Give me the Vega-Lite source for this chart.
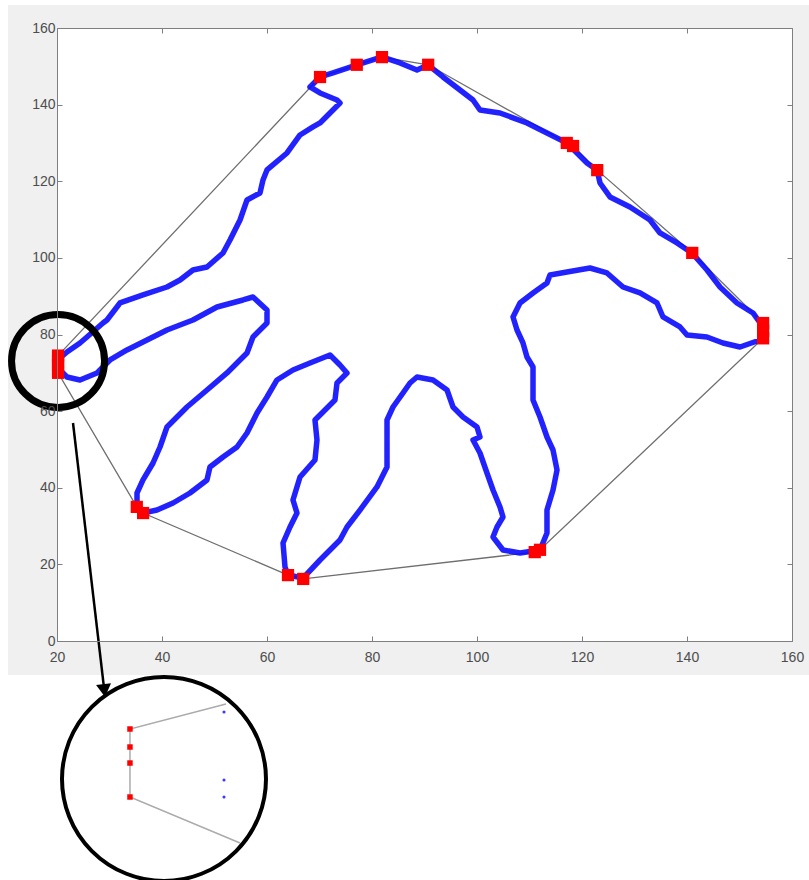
{
  "$schema": "https://vega.github.io/schema/vega-lite/v6.json",
  "width": 735,
  "height": 613,
  "autosize": {"type": "none"},
  "padding": {"left": 57, "top": 28, "right": 17, "bottom": 239},
  "background": "white",
  "config": {"view": {"stroke": null}},
  "datasets": {
    "bg": [{"x": 10.67, "x2": 163.24, "y": -8.87, "y2": 166.0}],
    "plotarea": [{"x": 20, "x2": 160, "y": 0, "y2": 160}],
    "contour": [
      {"i":0,"x":20.57,"y":73.87},{"i":1,"x":21.90,"y":75.44},{"i":2,"x":24.38,"y":77.79},{"i":3,"x":25.71,"y":79.35},
      {"i":4,"x":28.76,"y":83.01},{"i":5,"x":29.52,"y":83.79},{"i":6,"x":32.0,"y":88.23},{"i":7,"x":36.38,"y":90.32},
      {"i":8,"x":40.95,"y":92.40},{"i":9,"x":43.43,"y":94.23},{"i":10,"x":45.90,"y":96.84},{"i":11,"x":48.57,"y":97.63},
      {"i":12,"x":51.62,"y":101.28},{"i":13,"x":52.95,"y":104.67},{"i":14,"x":54.86,"y":109.89},{"i":15,"x":56.19,"y":115.11},
      {"i":16,"x":58.67,"y":116.94},{"i":17,"x":59.24,"y":120.33},{"i":18,"x":60.0,"y":122.95},{"i":19,"x":63.81,"y":127.38},
      {"i":20,"x":66.29,"y":132.08},{"i":21,"x":68.76,"y":134.17},{"i":22,"x":70.10,"y":135.21},{"i":23,"x":72.0,"y":137.82},
      {"i":24,"x":73.90,"y":140.43},{"i":25,"x":73.33,"y":141.22},{"i":26,"x":70.10,"y":143.04},{"i":27,"x":68.19,"y":144.61},
      {"i":28,"x":70.10,"y":147.22},{"i":29,"x":72.57,"y":148.27},{"i":30,"x":77.14,"y":150.35},{"i":31,"x":81.90,"y":152.44},
      {"i":32,"x":85.33,"y":150.88},{"i":33,"x":88.57,"y":149.05},{"i":34,"x":90.67,"y":150.35},{"i":35,"x":93.52,"y":147.22},
      {"i":36,"x":96.76,"y":143.83},{"i":37,"x":99.24,"y":141.22},{"i":38,"x":100.57,"y":138.61},{"i":39,"x":104.38,"y":137.82},
      {"i":40,"x":109.52,"y":135.21},{"i":41,"x":113.33,"y":132.60},{"i":42,"x":117.14,"y":129.99},{"i":43,"x":120.95,"y":124.77},
      {"i":44,"x":122.86,"y":122.95},{"i":45,"x":123.43,"y":119.55},{"i":46,"x":125.33,"y":115.90},{"i":47,"x":129.14,"y":113.29},
      {"i":48,"x":132.95,"y":109.89},{"i":49,"x":134.86,"y":106.50},{"i":50,"x":138.10,"y":103.89},{"i":51,"x":140.95,"y":101.28},
      {"i":52,"x":143.81,"y":96.84},{"i":53,"x":146.29,"y":92.40},{"i":54,"x":149.52,"y":88.23},{"i":55,"x":152.57,"y":85.62},
      {"i":56,"x":154.48,"y":81.96},{"i":57,"x":153.90,"y":78.57},{"i":58,"x":150.10,"y":76.74},{"i":59,"x":146.86,"y":77.79},
      {"i":60,"x":143.81,"y":79.35},{"i":61,"x":140.0,"y":79.88},{"i":62,"x":138.67,"y":81.96},{"i":63,"x":135.43,"y":84.57},
      {"i":64,"x":134.29,"y":88.23},{"i":65,"x":131.05,"y":90.84},{"i":66,"x":127.81,"y":92.40},{"i":67,"x":124.76,"y":96.06},
      {"i":68,"x":121.52,"y":97.36},{"i":69,"x":117.14,"y":96.32},{"i":70,"x":113.90,"y":95.54},{"i":71,"x":113.33,"y":93.45},
      {"i":72,"x":110.67,"y":90.84},{"i":73,"x":108.19,"y":88.23},{"i":74,"x":106.86,"y":84.57},{"i":75,"x":107.62,"y":81.18},
      {"i":76,"x":108.76,"y":77.79},{"i":77,"x":109.52,"y":74.13},{"i":78,"x":110.67,"y":71.52},{"i":79,"x":110.67,"y":67.35},
      {"i":80,"x":110.67,"y":62.91},{"i":81,"x":112.0,"y":58.47},{"i":82,"x":113.33,"y":53.25},{"i":83,"x":114.48,"y":49.86},
      {"i":84,"x":115.24,"y":44.64},{"i":85,"x":114.48,"y":39.42},{"i":86,"x":113.33,"y":34.19},{"i":87,"x":113.33,"y":28.19},
      {"i":88,"x":112.0,"y":23.75},{"i":89,"x":108.19,"y":22.97},{"i":90,"x":104.95,"y":23.75},{"i":91,"x":103.05,"y":27.15},
      {"i":92,"x":103.81,"y":29.76},{"i":93,"x":104.95,"y":32.37},{"i":94,"x":104.38,"y":34.98},{"i":95,"x":103.05,"y":39.42},
      {"i":96,"x":101.90,"y":43.85},{"i":97,"x":100.57,"y":49.07},{"i":98,"x":99.24,"y":52.47},{"i":99,"x":100.57,"y":53.25},
      {"i":100,"x":100.0,"y":55.86},{"i":101,"x":97.33,"y":58.47},{"i":102,"x":95.43,"y":61.08},{"i":103,"x":94.29,"y":65.52},
      {"i":104,"x":91.62,"y":68.13},{"i":105,"x":88.57,"y":68.91},{"i":106,"x":87.24,"y":67.35},{"i":107,"x":85.90,"y":64.74},
      {"i":108,"x":84.0,"y":61.08},{"i":109,"x":82.86,"y":57.69},{"i":110,"x":82.86,"y":52.47},{"i":111,"x":82.86,"y":45.42},
      {"i":112,"x":80.95,"y":40.20},{"i":113,"x":77.71,"y":34.19},{"i":114,"x":75.24,"y":29.76},{"i":115,"x":73.90,"y":26.36},
      {"i":116,"x":70.10,"y":21.14},{"i":117,"x":66.86,"y":16.44},{"i":118,"x":64.0,"y":17.23},{"i":119,"x":63.43,"y":19.32},
      {"i":120,"x":63.05,"y":25.58},{"i":121,"x":64.38,"y":29.76},{"i":122,"x":65.71,"y":33.41},{"i":123,"x":64.95,"y":36.81},
      {"i":124,"x":66.29,"y":42.81},{"i":125,"x":69.14,"y":47.25},{"i":126,"x":69.52,"y":52.47},{"i":127,"x":69.14,"y":57.69},
      {"i":128,"x":72.95,"y":62.91},{"i":129,"x":73.33,"y":67.35},{"i":130,"x":75.24,"y":69.96},{"i":131,"x":73.90,"y":72.04},
      {"i":132,"x":72.0,"y":74.65},{"i":133,"x":68.19,"y":72.57},{"i":134,"x":64.95,"y":70.74},{"i":135,"x":61.90,"y":68.13},
      {"i":136,"x":60.0,"y":63.69},{"i":137,"x":58.10,"y":59.51},{"i":138,"x":56.19,"y":54.29},{"i":139,"x":54.29,"y":50.64},
      {"i":140,"x":51.62,"y":48.03},{"i":141,"x":49.14,"y":45.42},{"i":142,"x":48.57,"y":42.03},{"i":143,"x":45.33,"y":38.63},
      {"i":144,"x":42.10,"y":36.02},{"i":145,"x":39.05,"y":34.19},{"i":146,"x":36.38,"y":33.41},{"i":147,"x":35.24,"y":34.98},
      {"i":148,"x":35.24,"y":38.63},{"i":149,"x":36.38,"y":42.03},{"i":150,"x":38.29,"y":46.46},{"i":151,"x":39.62,"y":50.64},
      {"i":152,"x":40.95,"y":55.86},{"i":153,"x":44.76,"y":61.08},{"i":154,"x":48.57,"y":65.52},{"i":155,"x":52.38,"y":69.96},
      {"i":156,"x":56.19,"y":75.18},{"i":157,"x":57.33,"y":79.35},{"i":158,"x":60.0,"y":83.01},{"i":159,"x":60.0,"y":86.40},
      {"i":160,"x":57.33,"y":89.79},{"i":161,"x":55.43,"y":89.01},{"i":162,"x":50.48,"y":87.18},{"i":163,"x":45.90,"y":83.79},
      {"i":164,"x":40.95,"y":81.18},{"i":165,"x":37.14,"y":78.57},{"i":166,"x":33.33,"y":75.96},{"i":167,"x":30.10,"y":73.35},
      {"i":168,"x":27.62,"y":69.96},{"i":169,"x":24.38,"y":68.13},{"i":170,"x":21.90,"y":68.91},{"i":171,"x":20.57,"y":70.74},
      {"i":172,"x":20.57,"y":73.87}
    ],
    "hull": [
      {"i":0,"x":20.2,"y":74.5},{"i":1,"x":70.1,"y":147.2},{"i":2,"x":77.1,"y":150.4},{"i":3,"x":81.9,"y":152.4},
      {"i":4,"x":90.7,"y":150.4},{"i":5,"x":117.1,"y":130.0},{"i":6,"x":118.3,"y":129.2},{"i":7,"x":122.9,"y":122.9},
      {"i":8,"x":141.0,"y":101.3},{"i":9,"x":154.5,"y":83.0},{"i":10,"x":154.5,"y":79.0},{"i":11,"x":112.0,"y":23.8},
      {"i":12,"x":111.0,"y":23.2},{"i":13,"x":66.9,"y":16.2},{"i":14,"x":64.0,"y":17.2},{"i":15,"x":36.4,"y":33.4},
      {"i":16,"x":35.2,"y":35.0},{"i":17,"x":20.2,"y":70.0},{"i":18,"x":20.2,"y":74.5}
    ],
    "hullpts": [
      {"x":20.2,"y":74.5},{"x":20.2,"y":73.0},{"x":20.2,"y":72.0},{"x":20.2,"y":70.0},
      {"x":35.2,"y":35.0},{"x":36.4,"y":33.4},{"x":64.0,"y":17.2},{"x":66.9,"y":16.2},
      {"x":111.0,"y":23.2},{"x":112.0,"y":23.8},{"x":154.5,"y":83.0},{"x":154.5,"y":81.0},
      {"x":154.5,"y":79.0},{"x":141.0,"y":101.3},{"x":122.9,"y":122.9},{"x":117.1,"y":130.0},
      {"x":118.3,"y":129.2},{"x":90.7,"y":150.4},{"x":81.9,"y":152.4},{"x":77.1,"y":150.4},
      {"x":70.1,"y":147.2}
    ],
    "ring": [{"x": 20.2, "y": 73.1}],
    "arrow": [{"i":0,"x":23.05,"y":56.9},{"i":1,"x":29.01,"y":-12.9}],
    "arrowhead": [{"x": 29.01, "y": -12.92}],
    "insetcircle": [{"x": 40.38, "y": -36.0}],
    "insethull": [
      {"i":0,"x":52.19,"y":-16.44},{"i":1,"x":33.9,"y":-22.97},{"i":2,"x":33.9,"y":-40.72},{"i":3,"x":54.86,"y":-52.73}
    ],
    "insetred": [{"x":33.9,"y":-22.97},{"x":33.9,"y":-27.67},{"x":33.9,"y":-31.85},{"x":33.9,"y":-40.72}],
    "insetblue": [{"x":51.81,"y":-18.53},{"x":51.81,"y":-36.28},{"x":51.81,"y":-40.72}]
  },
  "layer": [
    {
      "data": {"name": "bg"},
      "mark": {"type": "rect", "fill": "#f0f0f0"},
      "encoding": {
        "x": {"field": "x", "type": "quantitative", "scale": {"domain": [20, 160], "nice": false, "zero": false}, "axis": null},
        "x2": {"field": "x2"},
        "y": {"field": "y", "type": "quantitative", "scale": {"domain": [0, 160], "nice": false, "zero": false}, "axis": null},
        "y2": {"field": "y2"}
      }
    },
    {
      "data": {"name": "plotarea"},
      "mark": {"type": "rect", "fill": "white"},
      "encoding": {
        "x": {"field": "x", "type": "quantitative", "axis": {"orient": "top", "values": [20,40,60,80,100,120,140,160], "labels": false, "title": null, "tickSize": -5, "domainColor": "#7f7f7f", "tickColor": "#7f7f7f", "grid": false, "zindex": 2}},
        "x2": {"field": "x2"},
        "y": {"field": "y", "type": "quantitative", "axis": {"orient": "right", "values": [0,20,40,60,80,100,120,140,160], "labels": false, "title": null, "tickSize": -5, "domainColor": "#7f7f7f", "tickColor": "#7f7f7f", "grid": false, "zindex": 2}},
        "y2": {"field": "y2"}
      }
    },
    {
      "data": {"name": "hull"},
      "mark": {"type": "line", "color": "#6e6e6e", "strokeWidth": 1.3},
      "encoding": {
        "x": {"field": "x", "type": "quantitative", "axis": {"orient": "bottom", "values": [20,40,60,80,100,120,140,160], "title": null, "tickSize": -5, "labelPadding": 14, "labelFont": "Liberation Sans", "labelFontSize": 14, "labelColor": "#4d4d4d", "domainColor": "#7f7f7f", "tickColor": "#7f7f7f", "grid": false, "labelFlush": false, "labelOverlap": false, "zindex": 2}},
        "y": {"field": "y", "type": "quantitative", "axis": {"orient": "left", "values": [0,20,40,60,80,100,120,140,160], "title": null, "tickSize": -5, "labelPadding": 7, "labelFont": "Liberation Sans", "labelFontSize": 14, "labelColor": "#4d4d4d", "domainColor": "#7f7f7f", "tickColor": "#7f7f7f", "grid": false, "labelFlush": false, "labelOverlap": false, "zindex": 2}},
        "order": {"field": "i", "type": "quantitative"}
      }
    },
    {
      "data": {"name": "contour"},
      "mark": {"type": "line", "color": "#0a0aff", "strokeWidth": 5.5, "strokeJoin": "round", "strokeCap": "round", "opacity": 0.9},
      "encoding": {
        "x": {"field": "x", "type": "quantitative", "axis": null},
        "y": {"field": "y", "type": "quantitative", "axis": null},
        "order": {"field": "i", "type": "quantitative"}
      }
    },
    {
      "data": {"name": "hullpts"},
      "mark": {"type": "point", "shape": "square", "filled": true, "color": "#ff0000", "size": 150, "opacity": 1},
      "encoding": {
        "x": {"field": "x", "type": "quantitative", "axis": null},
        "y": {"field": "y", "type": "quantitative", "axis": null}
      }
    },
    {
      "data": {"name": "ring"},
      "mark": {"type": "point", "shape": "circle", "filled": false, "stroke": "black", "strokeWidth": 7, "size": 8649, "opacity": 1},
      "encoding": {
        "x": {"field": "x", "type": "quantitative", "axis": null},
        "y": {"field": "y", "type": "quantitative", "axis": null}
      }
    },
    {
      "data": {"name": "arrow"},
      "mark": {"type": "line", "color": "black", "strokeWidth": 2.5},
      "encoding": {
        "x": {"field": "x", "type": "quantitative", "axis": null},
        "y": {"field": "y", "type": "quantitative", "axis": null},
        "order": {"field": "i", "type": "quantitative"}
      }
    },
    {
      "data": {"name": "arrowhead"},
      "mark": {"type": "point", "shape": "triangle-down", "filled": true, "color": "black", "size": 225, "angle": 353.3, "opacity": 1},
      "encoding": {
        "x": {"field": "x", "type": "quantitative", "axis": null},
        "y": {"field": "y", "type": "quantitative", "axis": null}
      }
    },
    {
      "data": {"name": "insetcircle"},
      "mark": {"type": "point", "shape": "circle", "filled": false, "stroke": "black", "strokeWidth": 4, "size": 41616, "opacity": 1},
      "encoding": {
        "x": {"field": "x", "type": "quantitative", "axis": null},
        "y": {"field": "y", "type": "quantitative", "axis": null}
      }
    },
    {
      "data": {"name": "insethull"},
      "mark": {"type": "line", "color": "#ababab", "strokeWidth": 1.5},
      "encoding": {
        "x": {"field": "x", "type": "quantitative", "axis": null},
        "y": {"field": "y", "type": "quantitative", "axis": null},
        "order": {"field": "i", "type": "quantitative"}
      }
    },
    {
      "data": {"name": "insetred"},
      "mark": {"type": "point", "shape": "square", "filled": true, "color": "#ff0000", "size": 30, "opacity": 1},
      "encoding": {
        "x": {"field": "x", "type": "quantitative", "axis": null},
        "y": {"field": "y", "type": "quantitative", "axis": null}
      }
    },
    {
      "data": {"name": "insetblue"},
      "mark": {"type": "point", "shape": "circle", "filled": true, "color": "#3a3aff", "size": 10, "opacity": 1},
      "encoding": {
        "x": {"field": "x", "type": "quantitative", "axis": null},
        "y": {"field": "y", "type": "quantitative", "axis": null}
      }
    }
  ],
  "resolve": {"axis": {"x": "independent", "y": "independent"}}
}
